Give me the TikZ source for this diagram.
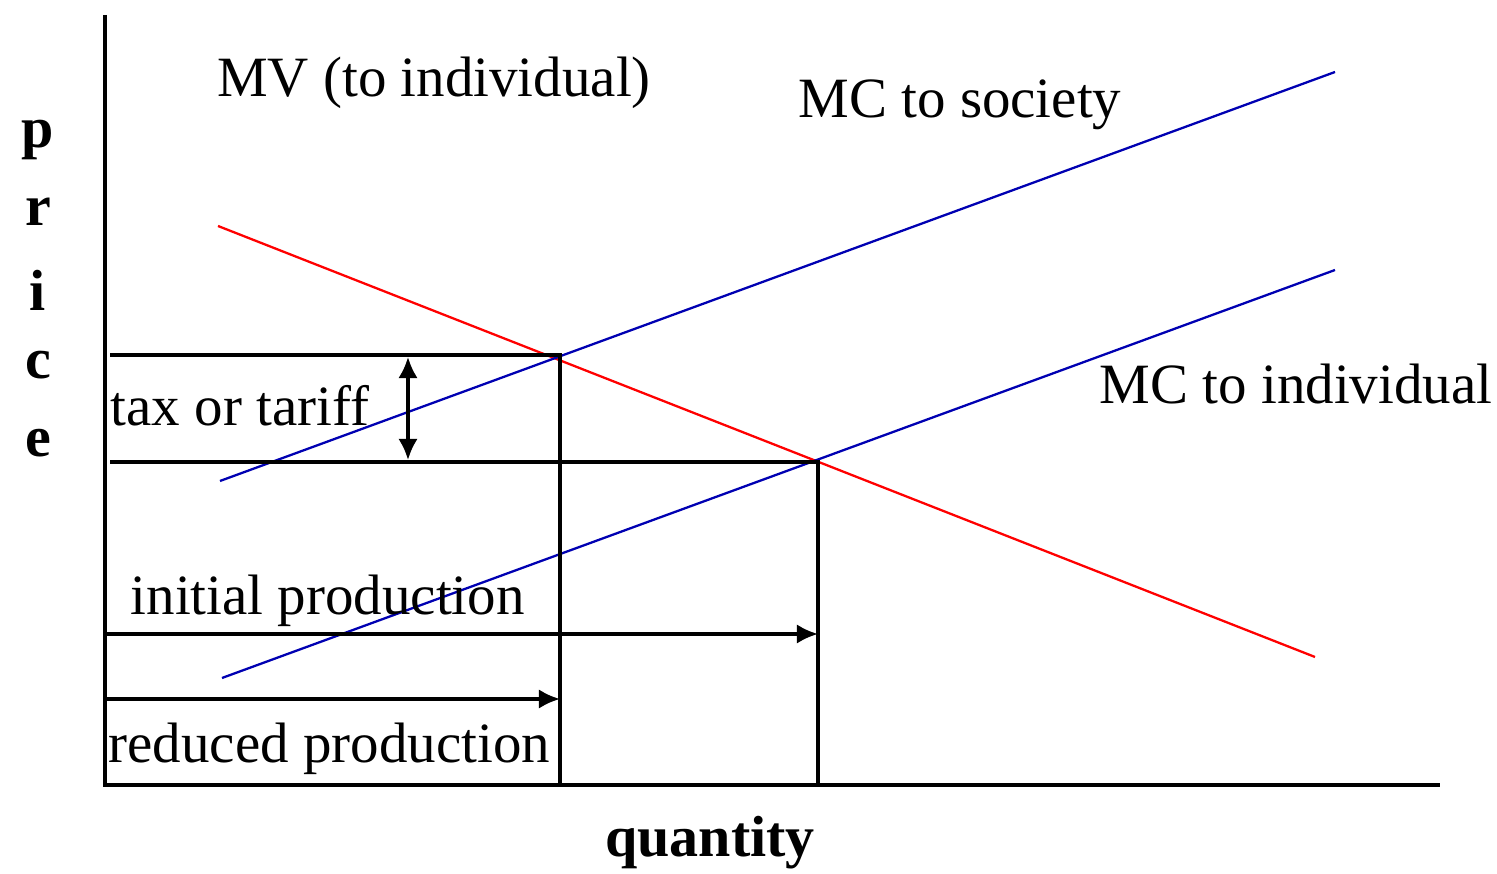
\documentclass[tikz,border=0pt]{standalone}
\usepackage{fontspec}
\setmainfont{Liberation Serif}
\usetikzlibrary{positioning,arrows.meta}

\begin{document}
\begin{tikzpicture}[x=0.01cm, y=-0.01cm, >={Latex[length=6pt,width=5.5pt]},
    every node/.style={inner sep=0pt, font=\fontsize{16.2}{19}\selectfont},
    bigletter/.style={font=\fontsize{16.5}{19}\selectfont\bfseries},
    axis/.style={line width=1.1pt},
    guide/.style={line width=0.95pt},
    curve/.style={line width=0.65pt}]
  \useasboundingbox (0,0) rectangle (1497,874);
  % axes
  \coordinate (origin) at (105,785);
  \coordinate (ytop) at (105,15);
  \coordinate (xend) at (1440,785);
  \draw[axis] (ytop) -- (origin) -- (xend);
  % curves
  \coordinate (mvstart) at (218,226);
  \coordinate (mvend) at (1315,657);
  \coordinate (socstart) at (220,481);
  \coordinate (socend) at (1335,72);
  \coordinate (indstart) at (222,678);
  \coordinate (indend) at (1335,270);
  \draw[curve, red] (mvstart) -- (mvend);
  \draw[curve, blue!70!black] (socstart) -- (socend);
  \draw[curve, blue!70!black] (indstart) -- (indend);
  % equilibria
  \coordinate (eqtax) at (560,355);
  \coordinate (eqfree) at (818,462);
  \coordinate (ptax) at (110,355);
  \coordinate (pfree) at (110,462);
  \coordinate (qtax) at (560,785);
  \coordinate (qfree) at (818,785);
  \draw[guide] (ptax) -- (eqtax) -- (qtax);
  \draw[guide] (pfree) -- (eqfree) -- (qfree);
  % tax gap
  \coordinate (gaptop) at (408,357);
  \coordinate (gapbot) at (408,460);
  \draw[guide, <->] (gaptop) -- (gapbot);
  % production arrows
  \coordinate (initstart) at (105,634);
  \coordinate (initend) at (818,634);
  \coordinate (redstart) at (105,699);
  \coordinate (redend) at (560,699);
  \draw[guide, ->] (initstart) -- (initend);
  \draw[guide, ->] (redstart) -- (redend);
  % labels
  \node (mvlabel) at (434,83) {MV (to individual)};
  \node (soclabel) at (960,105) {MC to society};
  \node (indlabel) at (1296,384) {MC to individual};
  \node[anchor=west] (taxlabel) at (110,406) {tax or tariff};
  \node[anchor=west] (initlabel) at (130,601) {initial production};
  \node[anchor=west] (redlabel) at (108,749) {reduced production};
  \node[bigletter] (qlabel) at (710,843) {quantity};
  \foreach \ch/\yy in {p/140, r/212, i/290, c/365, e/443}
    \node[bigletter] (price-\ch) at (38,\yy) {\ch};
\end{tikzpicture}
\end{document}
